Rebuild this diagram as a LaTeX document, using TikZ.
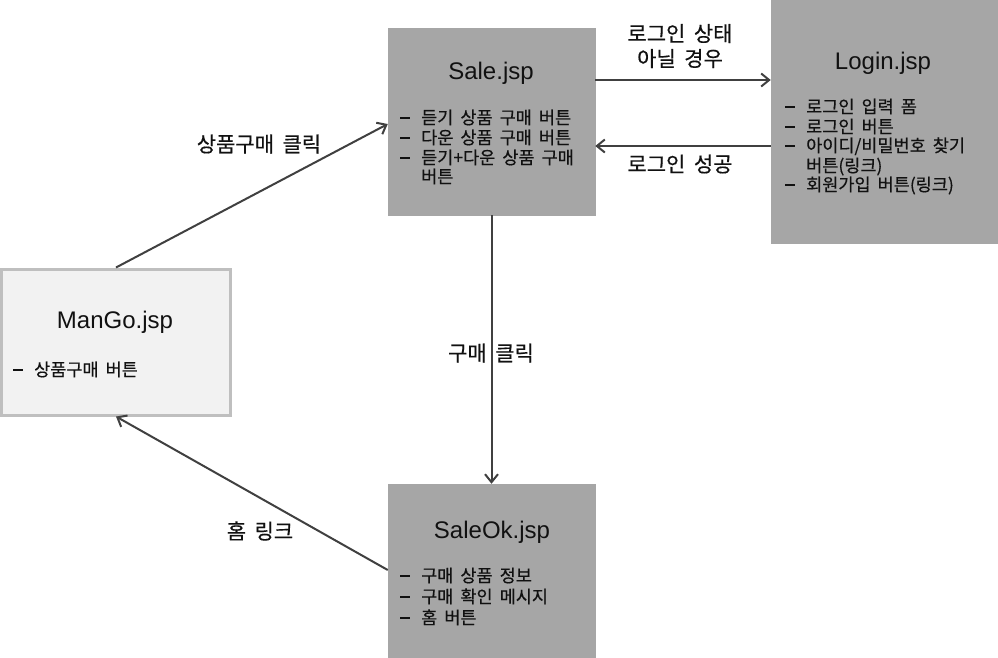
\documentclass[tikz,border=0pt]{standalone}
\usepackage{fontspec}
\setmainfont{Noto Sans CJK KR}[FakeBold=0.4, WordSpace=1.8]
\newfontfamily\titlefont{Liberation Sans}
\usetikzlibrary{arrows.meta}
\definecolor{boxgray}{HTML}{A6A6A6}
\definecolor{lightfill}{HTML}{F2F2F2}
\definecolor{lightline}{HTML}{BFBFBF}
\definecolor{arrowc}{HTML}{404040}
\definecolor{textc}{HTML}{111111}
\newcommand{\bl}[1]{\makebox[21pt][l]{\rule[5.3pt]{10pt}{1.5pt}}#1}
\newcommand{\cont}[1]{\hspace*{21pt}#1}
\begin{document}
\begin{tikzpicture}[x=1pt,y=-1pt,
  graybox/.style={draw=boxgray, fill=boxgray, line width=0.5pt, inner sep=0},
  lightbox/.style={draw=lightline, fill=lightfill, line width=3pt, inner sep=0},
  titletext/.style={anchor=base, inner sep=0, text=textc, font=\titlefont\fontsize{24}{28}\selectfont},
  itemtext/.style={anchor=base west, inner sep=0, text=textc, font=\fontsize{17.5}{20}\selectfont},
  lbl/.style={inner sep=0, align=center, text=textc, font=\fontsize{21}{25}\selectfont},
  conn/.style={draw=arrowc, line width=2pt, -{Straight Barb[length=8pt,width=13pt]}}]
\useasboundingbox (0,0) rectangle (998,657);
\clip (0,0) rectangle (998,657);
% boxes
\node[graybox, minimum width=207pt, minimum height=187pt] (sale) at (491.5,121.5) {};
\node[graybox, minimum width=239pt, minimum height=253pt] (login) at (890.5,116.5) {};
\node[graybox, minimum width=207pt, minimum height=190pt] (saleok) at (491.5,579) {};
\node[lightbox, minimum width=229pt, minimum height=146pt] (mango) at (116,342) {};
% titles
\node[titletext] (saletitle) at (491,79) {Sale.jsp};
\node[titletext] (logintitle) at (883,69) {Login.jsp};
\node[titletext] (mangotitle) at (115,328) {ManGo.jsp};
\node[titletext] (saleoktitle) at (492,538) {SaleOk.jsp};
% Sale items
\node[itemtext] (s1) at (400,124) {\bl{듣기 상품 구매 버튼}};
\node[itemtext] (s2) at (400,144) {\bl{다운 상품 구매 버튼}};
\node[itemtext] (s3) at (400,164) {\bl{듣기+다운 상품 구매}};
\node[itemtext] (s4) at (400,183) {\cont{버튼}};
% Login items
\node[itemtext] (l1) at (785,113) {\bl{로그인 입력 폼}};
\node[itemtext] (l2) at (785,133) {\bl{로그인 버튼}};
\node[itemtext] (l3) at (785,152) {\bl{아이디/비밀번호 찾기}};
\node[itemtext] (l4) at (785,172) {\cont{버튼(링크)}};
\node[itemtext] (l5) at (785,191) {\bl{회원가입 버튼(링크)}};
% ManGo item
\node[itemtext] (m1) at (13,376) {\bl{상품구매 버튼}};
% SaleOk items
\node[itemtext] (o1) at (400,582) {\bl{구매 상품 정보}};
\node[itemtext] (o2) at (400,603) {\bl{구매 확인 메시지}};
\node[itemtext] (o3) at (400,624) {\bl{홈 버튼}};
% connectors
\draw[conn] (mango.north) -- (sale.west |- 0,124);
\draw[conn] (sale.east |- 0,80) -- (login.west |- 0,80);
\draw[conn] (login.west |- 0,146) -- (sale.east |- 0,146);
\draw[conn] (sale.south) -- (saleok.north);
\draw[conn] (saleok.west |- 0,570) -- (mango.south);
% labels
\node[lbl] (lab1) at (680,46) {로그인 상태\\아닐 경우};
\node[lbl] (lab2) at (680,164) {로그인 성공};
\node[lbl] (lab3) at (259,144) {상품구매 클릭};
\node[lbl] (lab4) at (260,531) {홈 링크};
\node[lbl] (lab5) at (491,353) {구매 클릭};
\end{tikzpicture}
\end{document}
